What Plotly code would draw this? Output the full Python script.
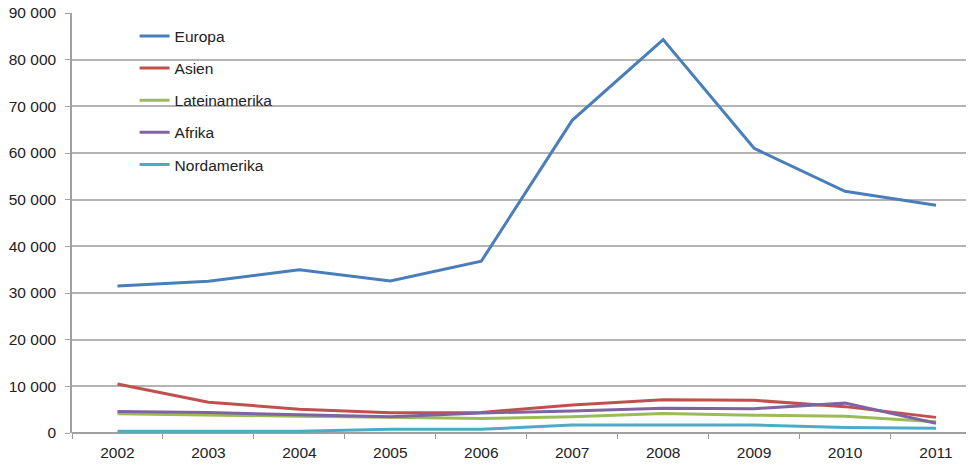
import plotly.graph_objects as go

years = ["2002", "2003", "2004", "2005", "2006", "2007", "2008", "2009", "2010", "2011"]
europa = [31500, 32500, 35000, 32600, 36800, 67000, 84300, 61000, 51800, 48800]
asien = [10500, 6600, 5100, 4350, 4400, 6000, 7100, 7000, 5650, 3350]
lateinamerika = [4100, 3800, 3600, 3400, 3100, 3500, 4200, 3800, 3600, 2400]
afrika = [4600, 4400, 3900, 3500, 4300, 4700, 5300, 5200, 6400, 2100]
nordamerika = [400, 400, 400, 800, 800, 1700, 1700, 1700, 1200, 1000]

y_tickvals = [0, 10000, 20000, 30000, 40000, 50000, 60000, 70000, 80000, 90000]
y_ticktext = ["0", "10 000", "20 000", "30 000", "40 000", "50 000", "60 000", "70 000", "80 000", "90 000"]

series = [
    ("Europa", europa, "#4A7EBB"),
    ("Asien", asien, "#C0504D"),
    ("Lateinamerika", lateinamerika, "#9BBB59"),
    ("Afrika", afrika, "#8064A2"),
    ("Nordamerika", nordamerika, "#4BACC6"),
]

xpos = list(range(len(years)))
fig = go.Figure()
for i, (name, vals, col) in enumerate(series):
    fig.add_trace(go.Scatter(x=xpos, y=vals, mode="lines", name=name,
                             legendgroup=f"g{i}",
                             line=dict(color=col, width=3)))

font = "Liberation Sans, Arial, sans-serif"
fig.update_layout(
    width=971, height=466,
    margin=dict(l=72, r=5, t=13, b=33),
    plot_bgcolor="white", paper_bgcolor="white",
    font=dict(family=font, size=15.5, color="#222"),
    showlegend=True,
    legend=dict(x=0.07, y=0.985, xanchor="left", yanchor="top",
                bgcolor="rgba(0,0,0,0)", tracegroupgap=9,
                traceorder="grouped", font=dict(size=15.5, color="#222")),
    xaxis=dict(range=[-0.5, 9.33], tickvals=xpos, ticktext=years,
               showgrid=False, zeroline=False, ticks="", ticklen=0,
               showline=False, ticklabelstandoff=8,
               minor=dict(tickvals=[i - 0.5 for i in range(10)], ticks="outside",
                          ticklen=5, tickcolor="#999", showgrid=False)),
    yaxis=dict(range=[0, 90000], tickvals=y_tickvals, ticktext=y_ticktext,
               showgrid=True, gridcolor="#b4b4b4", gridwidth=1.5,
               zeroline=True, zerolinecolor="#a0a0a0", zerolinewidth=1.5,
               showline=True, linecolor="#a0a0a0", linewidth=1.5,
               ticks="outside", ticklen=5, tickcolor="#a0a0a0",
               ticklabelstandoff=6),
)
fig.write_html("out.html")
